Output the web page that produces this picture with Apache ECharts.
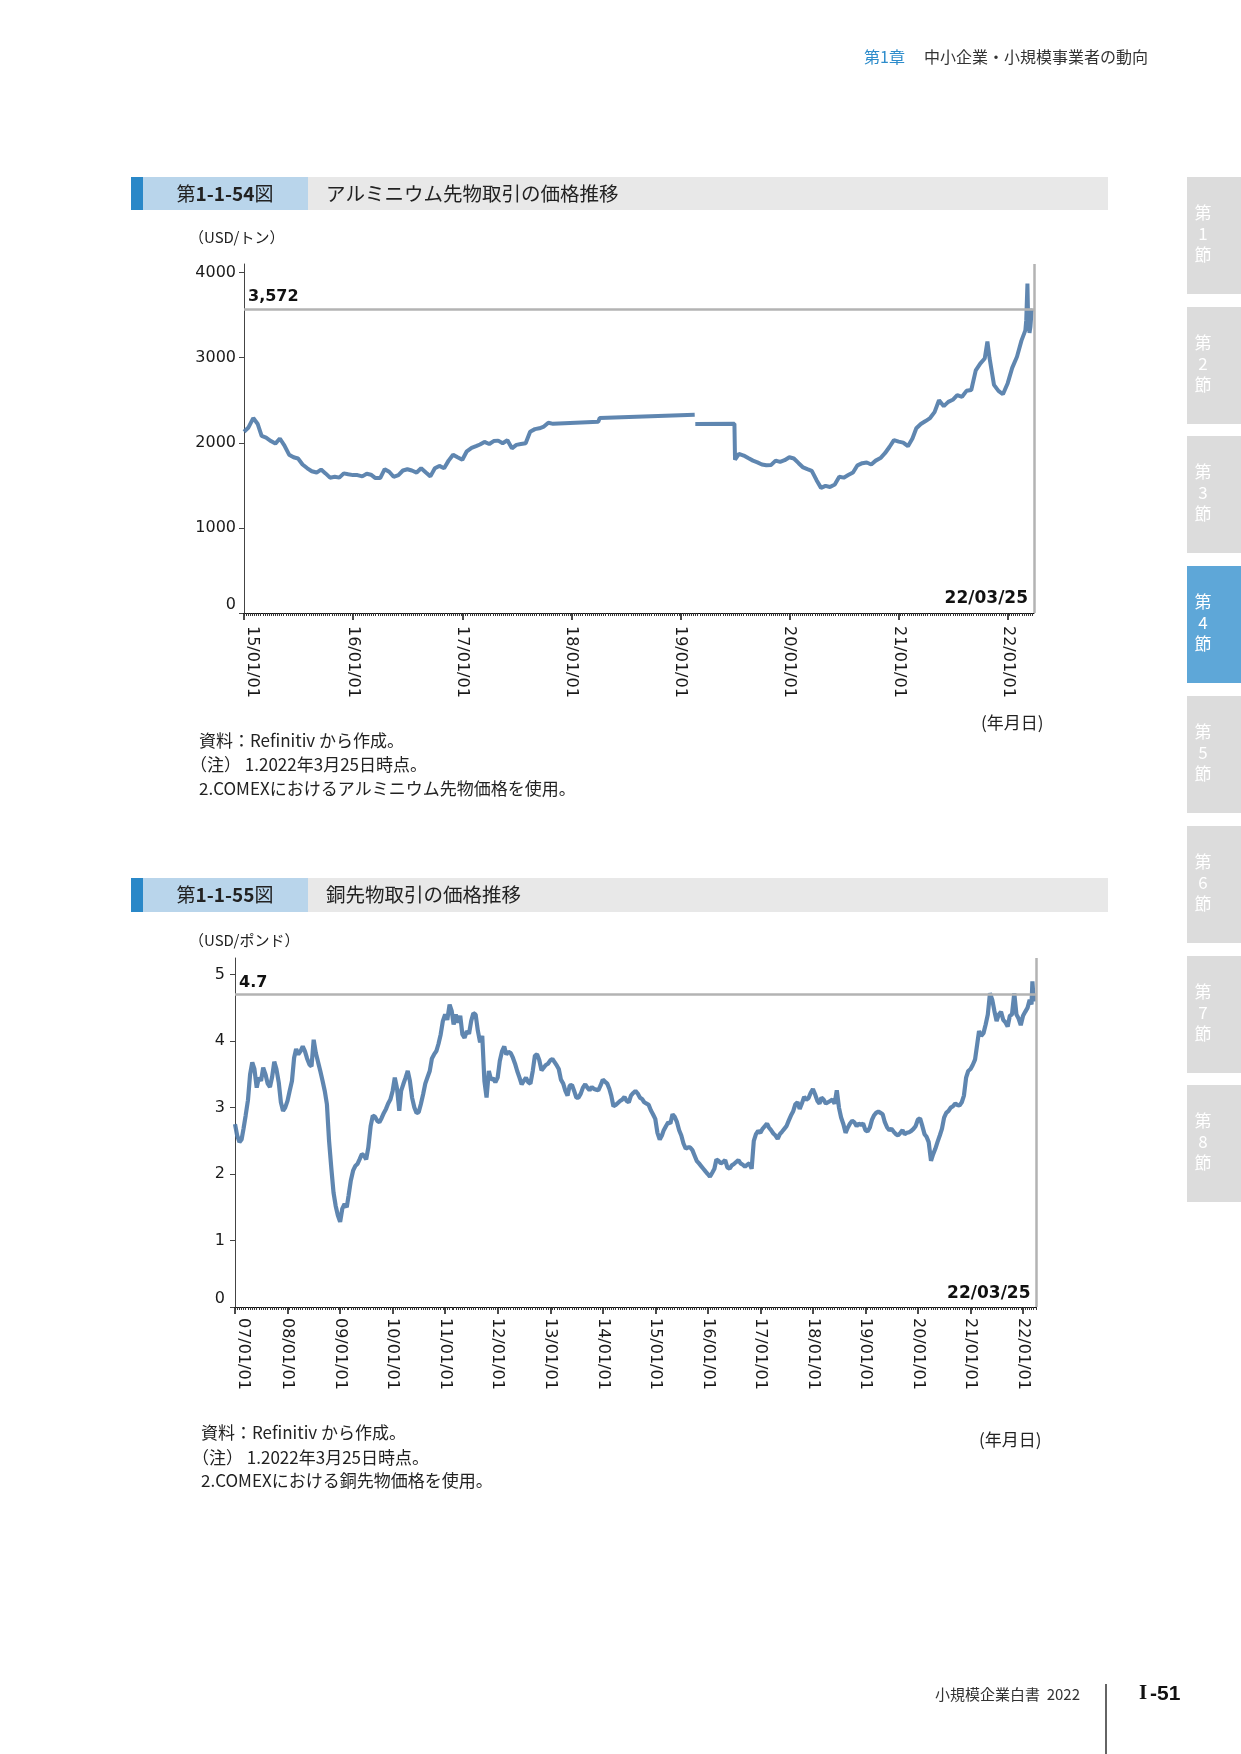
<!DOCTYPE html>
<html>
<head>
<meta charset="utf-8">
<script src="https://cdn.jsdelivr.net/npm/echarts@6/dist/echarts.min.js"></script>
<style>
html, body { margin: 0; padding: 0; background: #fff; }
#page { width: 1241px; height: 1754px; }
</style>
</head>
<body>
<div id="page"></div>
<script>
// アルミニウム先物 (USD/トン)
const alDates = [
  '2015-01-01','2015-01-16','2015-02-01','2015-02-16','2015-03-01','2015-03-16','2015-04-01','2015-04-16',
  '2015-05-01','2015-05-16','2015-06-01','2015-06-16','2015-07-01','2015-07-16','2015-08-01','2015-08-16',
  '2015-09-01','2015-09-16','2015-10-01','2015-10-16','2015-11-01','2015-11-16','2015-12-01','2015-12-16',
  '2016-01-01','2016-01-16','2016-02-01','2016-02-16','2016-03-01','2016-03-16','2016-04-01','2016-04-16',
  '2016-05-01','2016-05-16','2016-06-01','2016-06-16','2016-07-01','2016-07-16','2016-08-01','2016-08-16',
  '2016-09-01','2016-09-16','2016-10-01','2016-10-16','2016-11-01','2016-11-16','2016-12-01','2016-12-16',
  '2017-01-01','2017-01-16','2017-02-01','2017-02-16','2017-03-01','2017-03-16','2017-04-01','2017-04-16',
  '2017-05-01','2017-05-16','2017-06-01','2017-06-16','2017-07-01','2017-07-16','2017-08-01','2017-08-16',
  '2017-09-01','2017-09-16','2017-10-01','2017-10-16','2017-11-01',
  '2018-04-01','2018-04-06','2019-02-18','2019-02-19','2019-02-20','2019-07-01','2019-07-03',
  '2019-07-16','2019-08-01','2019-08-16','2019-09-01','2019-09-16','2019-10-01','2019-10-16','2019-11-01',
  '2019-11-16','2019-12-01','2019-12-16',
  '2020-01-01','2020-01-16','2020-02-01','2020-02-16','2020-03-01','2020-03-16','2020-04-01','2020-04-16',
  '2020-05-01','2020-05-16','2020-06-01','2020-06-16','2020-07-01','2020-07-16','2020-08-01','2020-08-16',
  '2020-09-01','2020-09-16','2020-10-01','2020-10-16','2020-11-01','2020-11-16','2020-12-01','2020-12-16',
  '2021-01-01','2021-01-16','2021-02-01','2021-02-16','2021-03-01','2021-03-16','2021-04-01','2021-04-16',
  '2021-05-01','2021-05-16','2021-06-01','2021-06-16','2021-07-01','2021-07-16','2021-08-01','2021-08-16',
  '2021-09-01','2021-09-16','2021-10-01','2021-10-16','2021-10-25','2021-11-01','2021-11-08','2021-11-16',
  '2021-12-01','2021-12-16',
  '2022-01-01','2022-01-16','2022-02-01','2022-02-16','2022-03-01','2022-03-04','2022-03-08','2022-03-10',
  '2022-03-15','2022-03-18','2022-03-22','2022-03-25'
];
const alPrices = [
  2130, 2180, 2290, 2220, 2080, 2060, 2020, 1990,
  2050, 1970, 1860, 1830, 1815, 1745, 1700, 1665,
  1650, 1685, 1640, 1590, 1600, 1590, 1640, 1630,
  1620, 1620, 1605, 1635, 1625, 1585, 1585, 1690,
  1660, 1600, 1620, 1674, 1689, 1674, 1650, 1700,
  1650, 1605, 1700, 1728, 1700, 1790, 1860, 1830,
  1800, 1900, 1940, 1960, 1980, 2010, 1985, 2020,
  2025, 1995, 2030, 1935, 1975, 1985, 1995, 2130,
  2160, 2170, 2190, 2235, 2222,
  2248, 2292, 2330, null, 2220, 2222, 1800,
  1870, 1850, 1820, 1790, 1770, 1745, 1735, 1740,
  1790, 1775, 1795,
  1830, 1815, 1760, 1710, 1690, 1670, 1560, 1470,
  1494, 1480, 1510, 1600, 1590, 1620, 1650, 1735,
  1760, 1768, 1745, 1790, 1820, 1877, 1950, 2030,
  2013, 2002, 1960, 2050, 2170, 2220, 2255, 2290,
  2360, 2500, 2430, 2480, 2505, 2560, 2540, 2610,
  2620, 2850, 2930, 2990, 3190, 3000, 2850, 2680,
  2610, 2570,
  2700, 2880, 3010, 3200, 3320, 3440, 3870, 3520,
  3290, 3360, 3540, 3572
];

// 銅先物 (USD/ポンド) 各年 1日・16日
const cu2007 = [2.75,2.58,2.48,2.52,2.68,2.88,3.11,3.50,3.68,3.58,3.30,3.45,3.40,3.60,3.50,3.36,3.31,3.46,3.69,3.58,3.38,3.08,2.95,3.00];
const cu2008 = [3.10,3.25,3.40,3.75,3.88,3.80,3.85,3.92,3.85,3.74,3.65,3.62,4.02,3.82,3.68,3.55,3.40,3.25,3.05,2.50,2.08,1.72,1.52,1.38];
const cu2009 = [1.28,1.48,1.55,1.50,1.68,1.90,2.05,2.12,2.15,2.22,2.30,2.28,2.22,2.40,2.72,2.88,2.86,2.80,2.78,2.84,2.92,2.98,3.06,3.12];
const cu2010 = [3.25,3.45,3.28,2.95,3.25,3.35,3.45,3.55,3.40,3.15,3.00,2.92,2.93,3.05,3.20,3.36,3.46,3.55,3.74,3.80,3.85,3.96,4.10,4.30];
const cu2011 = [4.40,4.32,4.55,4.45,4.25,4.40,4.28,4.38,4.10,4.05,4.15,4.11,4.30,4.42,4.40,4.16,3.98,4.08,3.40,3.15,3.55,3.42,3.44,3.38];
const cu2012 = [3.45,3.70,3.85,3.92,3.80,3.84,3.82,3.75,3.66,3.55,3.45,3.35,3.40,3.45,3.38,3.36,3.55,3.78,3.80,3.72,3.56,3.60,3.64,3.66];
const cu2013 = [3.71,3.73,3.68,3.63,3.58,3.42,3.36,3.25,3.18,3.33,3.34,3.25,3.15,3.15,3.21,3.30,3.35,3.30,3.26,3.31,3.28,3.27,3.26,3.33];
const cu2014 = [3.42,3.39,3.36,3.28,3.18,3.02,3.04,3.07,3.10,3.12,3.16,3.10,3.08,3.18,3.22,3.25,3.21,3.15,3.13,3.08,3.06,3.04,2.96,2.90];
const cu2015 = [2.83,2.62,2.52,2.58,2.66,2.72,2.78,2.76,2.90,2.86,2.78,2.66,2.58,2.46,2.38,2.40,2.40,2.36,2.28,2.20,2.16,2.12,2.08,2.04];
const cu2016 = [2.00,1.96,2.02,2.08,2.22,2.20,2.16,2.18,2.21,2.10,2.08,2.13,2.15,2.18,2.21,2.16,2.14,2.11,2.14,2.16,2.08,2.50,2.60,2.65];
const cu2017 = [2.62,2.68,2.72,2.76,2.70,2.66,2.61,2.58,2.53,2.60,2.64,2.68,2.72,2.80,2.88,2.94,3.05,3.08,2.98,3.06,3.16,3.12,3.14,3.22];
const cu2018 = [3.28,3.20,3.10,3.06,3.15,3.12,3.06,3.08,3.10,3.12,3.06,3.26,3.00,2.85,2.75,2.62,2.70,2.76,2.80,2.78,2.72,2.76,2.74,2.76];
const cu2019 = [2.66,2.64,2.70,2.82,2.88,2.92,2.94,2.92,2.90,2.78,2.70,2.66,2.68,2.64,2.60,2.58,2.62,2.66,2.60,2.62,2.63,2.65,2.68,2.72];
const cu2020 = [2.82,2.84,2.72,2.60,2.56,2.48,2.20,2.30,2.38,2.48,2.58,2.68,2.85,2.92,2.95,3.00,3.02,3.06,3.04,3.03,3.08,3.18,3.45,3.55];
const cu2021 = [3.58,3.64,3.72,3.95,4.15,4.08,4.12,4.25,4.40,4.72,4.62,4.45,4.30,4.40,4.44,4.32,4.28,4.22,4.38,4.40,4.72,4.40,4.34,4.24];
const cu2022 = [4.38,4.44,4.50,4.62,4.55];
const cuTailDates = ['2022-03-07','2022-03-16','2022-03-25'];
const cuTailPrices = [4.90, 4.60, 4.70];

const alYTicks = [0, 1000, 2000, 3000, 4000];
const cuYTicks = [0, 1, 2, 3, 4, 5];
const alYears = [2015, 2016, 2017, 2018, 2019, 2020, 2021, 2022];
const cuYears = [2007, 2008, 2009, 2010, 2011, 2012, 2013, 2014, 2015, 2016, 2017, 2018, 2019, 2020, 2021, 2022];

function ts(s) {
  const p = s.split('-');
  return Date.UTC(+p[0], +p[1] - 1, +p[2]);
}
function pad(n) { return (n < 10 ? '0' : '') + n; }
function fmtDate(v) {
  const d = new Date(v);
  return pad(d.getUTCFullYear() % 100) + '/' + pad(d.getUTCMonth() + 1) + '/' + pad(d.getUTCDate());
}

const alData = alDates.map((d, i) => [ts(d), alPrices[i] === null ? '-' : alPrices[i]]);

const cuByYear = [cu2007, cu2008, cu2009, cu2010, cu2011, cu2012, cu2013, cu2014,
  cu2015, cu2016, cu2017, cu2018, cu2019, cu2020, cu2021, cu2022];
const cuData = [];
cuByYear.forEach((vals, yi) => {
  vals.forEach((v, k) => {
    cuData.push([Date.UTC(2007 + yi, Math.floor(k / 2), k % 2 ? 16 : 1), v]);
  });
});
cuTailDates.forEach((d, i) => cuData.push([ts(d), cuTailPrices[i]]));

const alMin = ts('2015-01-01'), alMax = ts('2022-03-30');
const cuMin = ts('2007-01-01'), cuMax = ts('2022-04-01');
const DAY = 86400000;

// 補助目盛 (週ごと / 半月ごと)
const alMinor = [];
for (let t = alMin; t <= alMax; t += 7 * DAY) alMinor.push(t);
const cuMinor = [];
for (let y = 2007; y <= 2022; y++) {
  for (let m = 0; m < 12; m++) {
    [1, 16].forEach(d => {
      const t = Date.UTC(y, m, d);
      if (t <= cuMax) cuMinor.push(t);
    });
  }
}

const FONT = 'DejaVu Sans';
const JP = 'Noto Sans CJK JP';

function mainX(grid, min, max, years, margin) {
  const vals = years.map(y => Date.UTC(y, 0, 1));
  return {
    type: 'value', gridIndex: grid, min: min, max: max, position: 'bottom',
    axisLine: { show: true, lineStyle: { color: '#111', width: 1 } },
    axisTick: { show: true, length: 7, customValues: vals, lineStyle: { color: '#111', width: 1.5 } },
    axisLabel: {
      customValues: vals, rotate: -90, margin: margin, fontSize: 16, color: '#1a1a1a',
      fontFamily: FONT, formatter: fmtDate, verticalAlignMinLabel: 'bottom'
    },
    splitLine: { show: false }
  };
}
function minorX(grid, min, max, ticks) {
  return {
    type: 'value', gridIndex: grid, min: min, max: max, position: 'bottom',
    axisLine: { show: false },
    axisTick: { show: true, length: 3, customValues: ticks, lineStyle: { color: '#333', width: 1 } },
    axisLabel: { show: false },
    splitLine: { show: false }
  };
}
function leftY(grid, max, ticks, margin) {
  return {
    type: 'value', gridIndex: grid, min: 0, max: max,
    axisLine: { show: true, lineStyle: { color: '#444', width: 1 } },
    axisTick: { show: true, length: 5, customValues: ticks, lineStyle: { color: '#444' } },
    axisLabel: {
      customValues: ticks, fontSize: 16, color: '#1a1a1a', fontFamily: FONT,
      margin: margin, verticalAlignMinLabel: 'bottom', formatter: v => String(v)
    },
    splitLine: { show: false }
  };
}
function priceSeries(data, xi, yi, lastVal, lastLabel, maxX, width, endOffset) {
  return {
    type: 'line', xAxisIndex: xi, yAxisIndex: yi, data: data,
    showSymbol: false, connectNulls: false, silent: true,
    lineStyle: { color: '#4e79a7', width: width, opacity: 0.9 },
    markLine: {
      silent: true, symbol: ['none', 'none'],
      lineStyle: { color: '#b3b3b3', width: 2.5, type: 'solid' },
      data: [
        { yAxis: lastVal, label: {
          show: true, position: 'insideStartTop', formatter: lastLabel, distance: [4, 4],
          color: '#111', fontWeight: 'bold', fontSize: 16, fontFamily: FONT } },
        { xAxis: maxX, label: { show: false } }
      ]
    },
    markPoint: {
      silent: true, symbol: 'circle', symbolSize: 1,
      itemStyle: { color: 'rgba(0,0,0,0)' },
      data: [{ coord: [ts('2022-03-25'), 0], label: {
        show: true, position: 'left', distance: 4, offset: [0, endOffset], formatter: '22/03/25',
        color: '#111', fontWeight: 'bold', fontSize: 17, fontFamily: FONT } }]
    }
  };
}

function txt(text, x, y, size, opts) {
  return { type: 'text', silent: true, style: Object.assign({
    text: text, x: x, y: y, fontSize: size, fontFamily: JP, fill: '#222',
    align: 'left', verticalAlign: 'middle' }, opts || {}) };
}
function rect(x, y, w, h, color) {
  return { type: 'rect', silent: true, shape: { x: x, y: y, width: w, height: h }, style: { fill: color } };
}
const figRich = { b: { fontFamily: JP, fontSize: 19, fontWeight: 'bold', fill: '#222' } };

const tabTops = [177, 307, 436, 566, 696, 826, 956, 1085];
const graphics = [
  txt('第1章', 864, 57, 16, { fill: '#2d8ccb' }),
  txt('中小企業・小規模事業者の動向', 924, 57, 16, { fill: '#333' }),

  rect(131, 177, 12, 33, '#2a88c8'), rect(143, 177, 165, 33, '#b9d5eb'), rect(308, 177, 800, 33, '#e8e8e8'),
  txt('第{b|1-1-54}図', 225, 193.5, 19, { align: 'center', rich: figRich }),
  txt('アルミニウム先物取引の価格推移', 326, 193.5, 19.5),
  txt('（USD/トン）', 189, 237, 15),
  txt('(年月日)', 981, 723, 17),
  txt('資料：Refinitiv から作成。', 199, 741, 17),
  txt('（注） 1.2022年3月25日時点。', 190, 765, 17),
  txt('2.COMEXにおけるアルミニウム先物価格を使用。', 199, 789, 17),

  rect(131, 878, 12, 34, '#2a88c8'), rect(143, 878, 165, 34, '#b9d5eb'), rect(308, 878, 800, 34, '#e8e8e8'),
  txt('第{b|1-1-55}図', 225, 895, 19, { align: 'center', rich: figRich }),
  txt('銅先物取引の価格推移', 326, 895, 19.5),
  txt('（USD/ポンド）', 189, 940, 15),
  txt('(年月日)', 979, 1440, 17),
  txt('資料：Refinitiv から作成。', 201, 1433, 17),
  txt('（注） 1.2022年3月25日時点。', 192, 1458, 17),
  txt('2.COMEXにおける銅先物価格を使用。', 201, 1481, 17),

  txt('小規模企業白書  2022', 935, 1694, 15, { fill: '#333' }),
  { type: 'line', silent: true, shape: { x1: 1106, y1: 1684, x2: 1106, y2: 1754 }, style: { stroke: '#111', lineWidth: 1.3 } },
  txt('I', 1139, 1694, 21, { fontFamily: 'Liberation Serif', fontWeight: 'bold', fill: '#111' }),
  txt('-51', 1150, 1694, 21, { fontFamily: 'Liberation Sans', fontWeight: 'bold', fill: '#111' })
];
tabTops.forEach((top, i) => {
  graphics.push(rect(1187, top, 54, 117, i === 3 ? '#5ea7d8' : '#dcdcdc'));
  graphics.push(txt('第\n' + (i + 1) + '\n節', 1203, top + 57, 17, {
    align: 'center', fill: '#fff', lineHeight: 21 }));
});

const chart = echarts.init(document.getElementById('page'), null, { renderer: 'canvas' });
chart.setOption({
  animation: false,
  backgroundColor: '#fff',
  textStyle: { fontFamily: FONT },
  grid: [
    { left: 244, top: 264, width: 790, height: 349 },
    { left: 235, top: 958, width: 801, height: 349 }
  ],
  xAxis: [
    mainX(0, alMin, alMax, alYears, 13),
    minorX(0, alMin, alMax, alMinor),
    mainX(1, cuMin, cuMax, cuYears, 11),
    minorX(1, cuMin, cuMax, cuMinor)
  ],
  yAxis: [
    leftY(0, 4100, alYTicks, 8),
    leftY(1, 5.25, cuYTicks, 10)
  ],
  series: [
    priceSeries(alData, 0, 0, 3572, '3,572', alMax, 4, -14),
    priceSeries(cuData, 2, 1, 4.7, '4.7', cuMax, 4.2, -13)
  ],
  graphic: graphics
});
</script>
</body>
</html>
